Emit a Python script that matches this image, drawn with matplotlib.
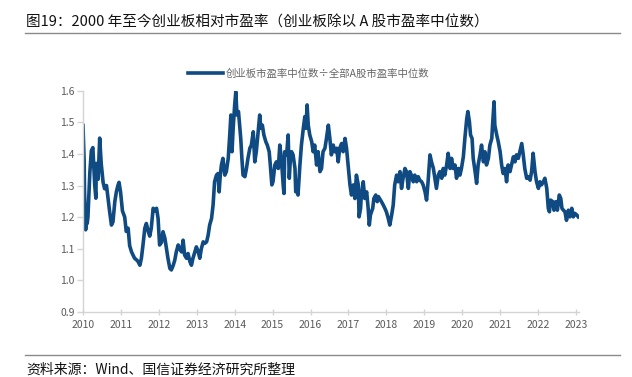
import matplotlib
matplotlib.use("Agg")
import matplotlib.pyplot as plt
from matplotlib.lines import Line2D

plt.rcParams["font.family"] = ["Noto Sans CJK SC", "DejaVu Sans"]

TITLE = "图19：2000 年至今创业板相对市盈率（创业板除以 A 股市盈率中位数）"
SERIES_NAME = "创业板市盈率中位数÷全部A股市盈率中位数"
SOURCE = "资料来源：Wind、国信证券经济研究所整理"

YEARS = list(range(2010, 2024))
Y_TICKS = [0.9, 1.0, 1.1, 1.2, 1.3, 1.4, 1.5, 1.6]

# decimal year
dates = [
    2010.00, 2010.03, 2010.04, 2010.07, 2010.09, 2010.11, 2010.13, 2010.18, 2010.22, 2010.26,
    2010.31, 2010.34, 2010.35, 2010.40, 2010.44, 2010.48, 2010.53, 2010.57, 2010.62, 2010.66,
    2010.70, 2010.75, 2010.79, 2010.84, 2010.88, 2010.92, 2010.95, 2010.99, 2011.04, 2011.10,
    2011.14, 2011.19, 2011.23, 2011.28, 2011.32, 2011.36, 2011.41, 2011.45, 2011.50, 2011.54,
    2011.58, 2011.63, 2011.67, 2011.72, 2011.76, 2011.80, 2011.85, 2011.89, 2011.94, 2011.98,
    2012.02, 2012.07, 2012.11, 2012.16, 2012.20, 2012.24, 2012.29, 2012.33, 2012.38, 2012.42,
    2012.46, 2012.51, 2012.55, 2012.60, 2012.64, 2012.68, 2012.73, 2012.77, 2012.82, 2012.86,
    2012.90, 2012.95, 2012.99, 2013.04, 2013.08, 2013.12, 2013.17, 2013.21, 2013.26, 2013.30,
    2013.34, 2013.39, 2013.43, 2013.47, 2013.52, 2013.56, 2013.59, 2013.62, 2013.65, 2013.69,
    2013.74, 2013.78, 2013.83, 2013.87, 2013.90, 2013.93, 2013.96, 2014.00, 2014.03, 2014.06,
    2014.10, 2014.13, 2014.16, 2014.19, 2014.22, 2014.27, 2014.31, 2014.35, 2014.40, 2014.44,
    2014.49, 2014.53, 2014.57, 2014.62, 2014.66, 2014.69, 2014.73, 2014.77, 2014.82, 2014.86,
    2014.91, 2014.94, 2014.98, 2015.01, 2015.06, 2015.10, 2015.15, 2015.19, 2015.23, 2015.28,
    2015.30, 2015.32, 2015.37, 2015.41, 2015.44, 2015.47, 2015.50, 2015.54, 2015.59, 2015.61,
    2015.65, 2015.67, 2015.72, 2015.76, 2015.81, 2015.85, 2015.88, 2015.91, 2015.94, 2015.98,
    2016.03, 2016.07, 2016.11, 2016.16, 2016.20, 2016.25, 2016.29, 2016.33, 2016.38, 2016.42,
    2016.47, 2016.51, 2016.55, 2016.60, 2016.64, 2016.69, 2016.73, 2016.77, 2016.82, 2016.86,
    2016.91, 2016.95, 2016.99, 2017.04, 2017.08, 2017.13, 2017.17, 2017.21, 2017.26, 2017.28,
    2017.32, 2017.34, 2017.39, 2017.43, 2017.48, 2017.52, 2017.55, 2017.58, 2017.64, 2017.67,
    2017.72, 2017.76, 2017.79, 2017.82, 2017.87, 2017.92, 2017.96, 2018.00, 2018.05, 2018.09,
    2018.14, 2018.18, 2018.22, 2018.27, 2018.31, 2018.36, 2018.40, 2018.44, 2018.49, 2018.53,
    2018.58, 2018.62, 2018.66, 2018.71, 2018.75, 2018.80, 2018.84, 2018.88, 2018.93, 2018.97,
    2019.02, 2019.06, 2019.10, 2019.15, 2019.19, 2019.24, 2019.28, 2019.32, 2019.37, 2019.41,
    2019.46, 2019.50, 2019.54, 2019.59, 2019.63, 2019.68, 2019.72, 2019.76, 2019.81, 2019.85,
    2019.90, 2019.94, 2019.98, 2020.03, 2020.07, 2020.12, 2020.15, 2020.19, 2020.22, 2020.26,
    2020.29, 2020.34, 2020.38, 2020.42, 2020.47, 2020.51, 2020.56, 2020.60, 2020.64, 2020.69,
    2020.73, 2020.78, 2020.80, 2020.84, 2020.86, 2020.91, 2020.95, 2021.00, 2021.04, 2021.08,
    2021.13, 2021.17, 2021.21, 2021.26, 2021.30, 2021.35, 2021.39, 2021.43, 2021.48, 2021.52,
    2021.57, 2021.61, 2021.65, 2021.70, 2021.74, 2021.79, 2021.83, 2021.87, 2021.92, 2021.96,
    2022.01, 2022.05, 2022.09, 2022.14, 2022.18, 2022.23, 2022.27, 2022.30, 2022.33, 2022.39,
    2022.42, 2022.47, 2022.51, 2022.56, 2022.60, 2022.63, 2022.67, 2022.71, 2022.75, 2022.80,
    2022.84, 2022.89, 2022.93, 2022.97, 2023.02, 2023.06,
]

ratio = [
    1.490, 1.380, 1.280, 1.160, 1.210, 1.180, 1.200, 1.340, 1.410, 1.420,
    1.300, 1.260, 1.370, 1.320, 1.450, 1.370, 1.310, 1.290, 1.300, 1.260,
    1.220, 1.175, 1.185, 1.250, 1.280, 1.300, 1.310, 1.280, 1.220, 1.200,
    1.155, 1.165, 1.110, 1.090, 1.080, 1.070, 1.065, 1.060, 1.048, 1.070,
    1.110, 1.165, 1.180, 1.155, 1.140, 1.165, 1.228, 1.220, 1.228, 1.196,
    1.112, 1.120, 1.154, 1.133, 1.101, 1.070, 1.038, 1.033, 1.048, 1.064,
    1.090, 1.112, 1.100, 1.090, 1.127, 1.080, 1.070, 1.085, 1.059, 1.048,
    1.070, 1.090, 1.106, 1.090, 1.070, 1.100, 1.122, 1.117, 1.122, 1.143,
    1.175, 1.196, 1.238, 1.312, 1.333, 1.338, 1.280, 1.333, 1.365, 1.386,
    1.333, 1.344, 1.386, 1.460, 1.523, 1.407, 1.481, 1.555, 1.597, 1.523,
    1.534, 1.491, 1.449, 1.386, 1.333, 1.328, 1.354, 1.386, 1.418, 1.428,
    1.470, 1.375, 1.407, 1.470, 1.523, 1.481, 1.491, 1.460, 1.439, 1.428,
    1.407, 1.365, 1.302, 1.312, 1.365, 1.375, 1.354, 1.428, 1.386, 1.300,
    1.275, 1.407, 1.397, 1.460, 1.323, 1.386, 1.407, 1.397, 1.354, 1.280,
    1.291, 1.270, 1.365, 1.428, 1.481, 1.518, 1.481, 1.555, 1.491, 1.460,
    1.439, 1.407, 1.428, 1.365, 1.407, 1.344, 1.354, 1.407, 1.418, 1.449,
    1.491, 1.449, 1.397, 1.428, 1.407, 1.418, 1.375, 1.418, 1.433, 1.407,
    1.449, 1.418, 1.365, 1.302, 1.270, 1.302, 1.259, 1.333, 1.302, 1.201,
    1.228, 1.270, 1.312, 1.259, 1.280, 1.228, 1.175, 1.207, 1.228, 1.259,
    1.270, 1.249, 1.265, 1.259, 1.249, 1.238, 1.228, 1.217, 1.196, 1.175,
    1.207, 1.238, 1.302, 1.333, 1.312, 1.344, 1.291, 1.323, 1.354, 1.344,
    1.291, 1.344, 1.333, 1.312, 1.333, 1.312, 1.328, 1.317, 1.312, 1.302,
    1.280, 1.254, 1.312, 1.397, 1.375, 1.354, 1.323, 1.291, 1.333, 1.344,
    1.323, 1.354, 1.333, 1.365, 1.402, 1.354, 1.386, 1.354, 1.365, 1.323,
    1.354, 1.333, 1.354, 1.391, 1.449, 1.512, 1.534, 1.502, 1.460, 1.449,
    1.386, 1.344, 1.307, 1.365, 1.397, 1.428, 1.375, 1.407, 1.365, 1.386,
    1.428, 1.449, 1.491, 1.565, 1.491, 1.460, 1.439, 1.407, 1.365, 1.338,
    1.354, 1.312, 1.365, 1.344, 1.365, 1.391, 1.375, 1.397, 1.386, 1.407,
    1.433, 1.397, 1.354, 1.323, 1.328, 1.317, 1.344, 1.402, 1.344, 1.312,
    1.291, 1.312, 1.302, 1.312, 1.323, 1.291, 1.228, 1.217, 1.254, 1.249,
    1.222, 1.249, 1.222, 1.270, 1.259, 1.228, 1.222, 1.217, 1.190, 1.222,
    1.201, 1.228, 1.201, 1.212, 1.207, 1.201,
]

LINE_COLOR = "#0f4a82"
AXIS_COLOR = "#d4d4d4"
TICK_TEXT = "#5a5a5a"

fig = plt.figure(figsize=(6.32, 3.77), dpi=100)
ax = fig.add_axes([83 / 632, 1 - 312 / 377, (579 - 83) / 632, (312 - 90.7) / 377])

ax.plot(dates, ratio, color=LINE_COLOR, linewidth=2.6, solid_joinstyle="round",
        label=SERIES_NAME)

ax.set_xlim(2010, 2023.08)
ax.set_ylim(0.9, 1.6)
ax.set_xticks(YEARS)
ax.set_xticklabels([str(y) for y in YEARS])
ax.set_yticks(Y_TICKS)
ax.set_yticklabels([f"{v:.1f}" for v in Y_TICKS])

for side in ("top", "right"):
    ax.spines[side].set_visible(False)
for side in ("left", "bottom"):
    ax.spines[side].set_color(AXIS_COLOR)
    ax.spines[side].set_linewidth(1.0)
ax.tick_params(axis="y", colors=AXIS_COLOR, labelcolor=TICK_TEXT, labelsize=7.5,
               length=4, width=1, pad=2)
ax.tick_params(axis="x", colors=AXIS_COLOR, labelcolor=TICK_TEXT, labelsize=7.5,
               direction="inout", length=4, width=1, pad=4)

fig.legend(loc="center", bbox_to_anchor=(309 / 632, 1 - 74 / 377), frameon=False,
           fontsize=7.5, handlelength=3.3, handletextpad=0.3, labelcolor="#666666")

# title and source with rule lines
fig.text(26 / 632, 1 - 22.7 / 377, TITLE, fontsize=10.5, va="center", ha="left", color="#111111")
fig.add_artist(Line2D([25 / 632, 620 / 632], [1 - 32.5 / 377] * 2, color="#8a8a8a", linewidth=1))
fig.add_artist(Line2D([25 / 632, 620 / 632], [1 - 355 / 377] * 2, color="#8a8a8a", linewidth=1))
fig.text(26 / 632, 1 - 370 / 377, SOURCE, fontsize=10, va="center", ha="left", color="#111111")

fig.savefig("out.png", dpi=100)
